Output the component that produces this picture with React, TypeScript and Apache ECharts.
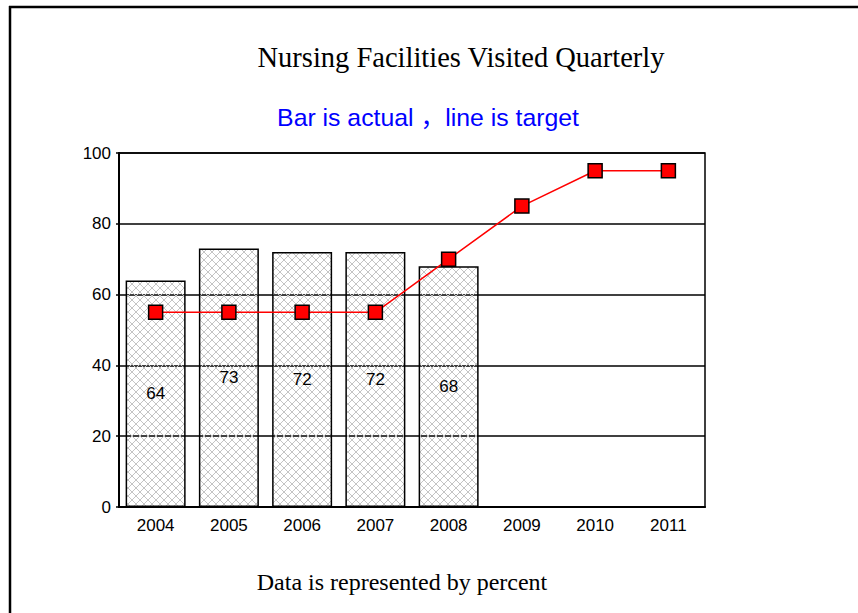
import React, { useEffect, useRef } from "react";
import * as echarts from "echarts";

const years = ["2004", "2005", "2006", "2007", "2008", "2009", "2010", "2011"];
const actual: (number | null)[] = [64, 73, 72, 72, 68, null, null, null];
const target = [55, 55, 55, 55, 70, 85, 95, 95];
const titleText = "Nursing Facilities Visited Quarterly";
const subtitleText = "Bar is actual ，line is target";
const footerText = "Data is represented by percent";

const hatch =
  "data:image/svg+xml;utf8," +
  encodeURIComponent(
    "<svg xmlns='http://www.w3.org/2000/svg' width='8' height='8'><path d='M0 0L8 8M8 0L0 8' stroke='#c4c4c4' stroke-width='1' fill='none'/></svg>"
  );

export default function App() {
  const ref = useRef<HTMLDivElement>(null);
  useEffect(() => {
    if (!ref.current) return;
    const chart = echarts.init(ref.current, undefined, { renderer: "svg" });
    chart.setOption({
      animation: false,
      backgroundColor: "#fff",
      grid: {
        left: 119,
        top: 153,
        right: 153,
        bottom: 106,
        show: true,
        borderColor: "#000",
        borderWidth: 1.5,
        backgroundColor: "transparent",
      },
      xAxis: {
        type: "category",
        data: years,
        axisLine: { show: true, lineStyle: { color: "#000", width: 2 } },
        axisTick: { show: false },
        axisLabel: {
          color: "#000",
          fontSize: 17,
          fontFamily: "Liberation Sans, Arial, sans-serif",
          margin: 10,
        },
      },
      yAxis: {
        type: "value",
        min: 0,
        max: 100,
        interval: 20,
        axisLine: { show: true, lineStyle: { color: "#000", width: 2 } },
        axisTick: { show: true, length: 3, lineStyle: { color: "#000", width: 1.5 } },
        axisLabel: {
          color: "#000",
          fontSize: 17,
          fontFamily: "Liberation Sans, Arial, sans-serif",
          margin: 8,
        },
        splitLine: { show: true, lineStyle: { color: "#000", width: 1.5 } },
      },
      series: [
        {
          type: "bar",
          data: actual,
          barWidth: 60,
          itemStyle: {
            color: { image: hatch, repeat: "repeat", imageWidth: 8, imageHeight: 8 },
            borderColor: "#000",
            borderWidth: 1.5,
          },
          label: {
            show: true,
            position: "inside",
            color: "#000",
            fontSize: 17,
            fontFamily: "Liberation Sans, Arial, sans-serif",
            textBorderWidth: 0,
          },
          z: 2,
        },
        {
          type: "line",
          data: target,
          symbol: "rect",
          symbolSize: 14,
          lineStyle: { color: "#ff0000", width: 1.5 },
          itemStyle: { color: "#ff0000", borderColor: "#000", borderWidth: 1.5 },
          z: 5,
        },
      ],
      graphic: [
        {
          type: "line",
          shape: { x1: 9, y1: 7, x2: 858, y2: 7 },
          style: { stroke: "#000", lineWidth: 2.5 },
        },
        {
          type: "line",
          shape: { x1: 10, y1: 6, x2: 10, y2: 613 },
          style: { stroke: "#000", lineWidth: 2.5 },
        },
        {
          type: "text",
          x: 461,
          y: 57,
          style: {
            text: titleText,
            fill: "#000",
            font: "28.5px 'Liberation Serif', 'Times New Roman', serif",
            textAlign: "center",
            textVerticalAlign: "middle",
          },
        },
        {
          type: "text",
          x: 428,
          y: 117,
          style: {
            text: subtitleText,
            fill: "#0000ff",
            font: "24.8px 'Liberation Sans', Arial, 'Noto Sans CJK SC', sans-serif",
            textAlign: "center",
            textVerticalAlign: "middle",
          },
        },
        {
          type: "text",
          x: 402,
          y: 582,
          style: {
            text: footerText,
            fill: "#000",
            font: "24px 'Liberation Serif', 'Times New Roman', serif",
            textAlign: "center",
            textVerticalAlign: "middle",
          },
        },
      ],
    });
    return () => chart.dispose();
  }, []);
  return <div ref={ref} style={{ width: 858, height: 613, position: "absolute", left: 0, top: 0 }} />;
}
